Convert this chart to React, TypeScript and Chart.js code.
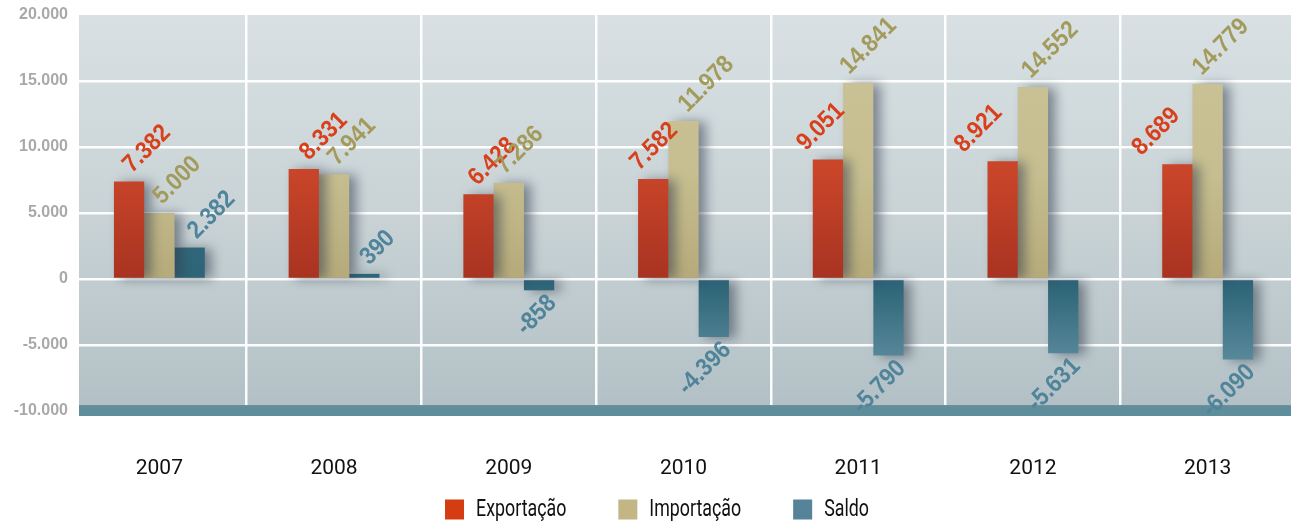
import React, { useEffect, useRef } from 'react';
import { Chart, registerables } from 'chart.js';

Chart.register(...registerables);

const years = ['2007', '2008', '2009', '2010', '2011', '2012', '2013'];
const exportacao = [7382, 8331, 6428, 7582, 9051, 8921, 8689];
const importacao = [5000, 7941, 7286, 11978, 14841, 14552, 14779];
const saldo = [2382, 390, -858, -4396, -5790, -5631, -6090];
const seriesNames = ['Exportação', 'Importação', 'Saldo'];
const yMin = -10000;
const yMax = 20000;
const yStep = 5000;

// label nudges (px) so value labels don't collide with the neighbouring bar
const labelNudge = [
  [0, 2, -4, -17, -25, -42, -39],
  [0, 0, -7, 1, -12, -5, -9],
  [4, 2, 0, 0, 0, 0, 0],
];

const legendColors = ['#d63c12', '#c4b684', '#558399'];
const labelColors = ['#d8401c', '#a39b5c', '#4f849a'];
const TEXT_FONT = 'Roboto, "Liberation Sans", sans-serif';

function fmt(v: number): string {
  const s = Math.abs(v).toString();
  const withDots = s.replace(/\B(?=(\d{3})+(?!\d))/g, '.');
  return (v < 0 ? '-' : '') + withDots;
}

function gradFor(chart: any, idx: number) {
  const area = chart.chartArea;
  if (!area) return legendColors[idx];
  const ctx = chart.ctx;
  const g = ctx.createLinearGradient(0, area.top, 0, area.bottom);
  if (idx === 0) {
    g.addColorStop(0, '#d2522f');
    g.addColorStop(0.4, '#c84529');
    g.addColorStop(0.66, '#a93321');
    g.addColorStop(1, '#a93321');
  } else if (idx === 1) {
    g.addColorStop(0, '#cbc499');
    g.addColorStop(0.4, '#c6be90');
    g.addColorStop(0.66, '#b6aa7a');
    g.addColorStop(1, '#b6aa7a');
  } else {
    g.addColorStop(0, '#4a7f92');
    g.addColorStop(0.6, '#2f6679');
    g.addColorStop(0.68, '#2d6477');
    g.addColorStop(0.9, '#5f8fa0');
    g.addColorStop(1, '#6a98a8');
  }
  return g;
}

const decorPlugin = {
  id: 'customDecor',
  beforeDraw(chart: any) {
    const { ctx, chartArea } = chart;
    if (!chartArea) return;
    ctx.save();
    const g = ctx.createLinearGradient(0, chartArea.top, 0, chartArea.bottom);
    g.addColorStop(0, '#d8e0e3');
    g.addColorStop(0.5, '#c9d3d6');
    g.addColorStop(1, '#b2c0c5');
    ctx.fillStyle = g;
    ctx.fillRect(79, chartArea.top, chartArea.right - 79, chartArea.bottom - chartArea.top);
    ctx.restore();
  },
  beforeDatasetsDraw(chart: any) {
    const { ctx, chartArea } = chart;
    ctx.save();
    const yScale = chart.scales.y;
    const bottom = yScale.getPixelForValue(yMin);
    ctx.fillStyle = '#5e8d9c';
    ctx.fillRect(79, bottom - 6, chartArea.right - 79, 11);
    ctx.fillStyle = '#6f8f98';
    ctx.fillRect(79, bottom - 6, chartArea.right - 79, 1.5);
    ctx.restore();
    ctx.save();
    ctx.shadowColor = 'rgba(50,60,75,0.55)';
    ctx.shadowBlur = 12;
    ctx.shadowOffsetX = 7;
    ctx.shadowOffsetY = 1;
  },
  afterDatasetsDraw(chart: any) {
    const { ctx } = chart;
    ctx.restore();
    ctx.save();
    ctx.font = 'bold 23px "Liberation Sans", Arial, sans-serif';
    ctx.textBaseline = 'alphabetic';
    chart.data.datasets.forEach((ds: any, di: number) => {
      const meta = chart.getDatasetMeta(di);
      meta.data.forEach((bar: any, i: number) => {
        const v = ds.data[i];
        const text = fmt(v);
        const nudge = labelNudge[di][i] || 0;
        ctx.save();
        ctx.fillStyle = labelColors[di];
        if (v >= 0) {
          ctx.translate(bar.x + 3 + nudge, bar.y - 8);
          ctx.textAlign = 'left';
        } else {
          ctx.translate(bar.x + bar.width / 2 + 3 + nudge, bar.y + 14);
          ctx.textAlign = 'right';
        }
        ctx.rotate(-Math.PI / 4);
        ctx.scale(0.97, 1.08);
        ctx.fillText(text, 0, 0);
        ctx.restore();
      });
    });
    ctx.restore();
  },
  afterDraw(chart: any) {
    const { ctx } = chart;
    ctx.save();
    ctx.font = '22px ' + TEXT_FONT;
    ctx.textBaseline = 'middle';
    ctx.textAlign = 'left';
    const box = 19;
    const gapText = 12;
    const gapItem = 52;
    const sx = 0.81;
    const widths = seriesNames.map((n) => ctx.measureText(n).width * sx);
    const total = widths.reduce((a, w) => a + box + gapText + w, 0) + gapItem * (seriesNames.length - 1);
    let x = 657 - total / 2;
    const cy = 509;
    seriesNames.forEach((n, i) => {
      ctx.fillStyle = legendColors[i];
      ctx.fillRect(x, cy - box / 2, box, box + 1);
      ctx.fillStyle = '#111';
      ctx.save();
      ctx.translate(x + box + gapText, cy + 1);
      ctx.scale(sx, 1.05);
      ctx.fillText(n, 0, 0);
      ctx.restore();
      x += box + gapText + widths[i] + gapItem;
    });
    ctx.restore();
  },
};

export default function App() {
  const ref = useRef<HTMLCanvasElement | null>(null);
  useEffect(() => {
    const canvas = ref.current;
    if (!canvas) return;
    const series = [exportacao, importacao, saldo];
    const chart = new Chart(canvas, {
      type: 'bar',
      data: {
        labels: years,
        datasets: series.map((data, idx) => ({
          label: seriesNames[idx],
          data,
          backgroundColor: (c: any) => gradFor(c.chart, idx),
          borderWidth: 0,
          categoryPercentage: 0.52,
          barPercentage: 1,
        })),
      },
      options: {
        responsive: false,
        animation: false,
        devicePixelRatio: 1,
        layout: { padding: { top: 15, left: 0, right: 0, bottom: 0 } },
        plugins: {
          tooltip: { enabled: false },
          legend: { display: false },
        },
        scales: {
          x: {
            grid: {
              offset: true,
              drawTicks: false,
              lineWidth: 2.5,
              color: (c: any) => (c.index === 0 || c.index === years.length ? 'rgba(0,0,0,0)' : 'rgba(255,255,255,0.95)'),
            },
            border: { display: false },
            ticks: {
              padding: 45,
              color: '#111',
              font: { family: TEXT_FONT, size: 21 },
            },
            afterFit: (s: any) => {
              s.height = 115;
            },
          },
          y: {
            min: yMin,
            max: yMax,
            grid: {
              drawTicks: false,
              lineWidth: 2.5,
              color: (c: any) => (c.tick && (c.tick.value === yMax || c.tick.value === yMin) ? 'rgba(0,0,0,0)' : 'rgba(255,255,255,0.95)'),
            },
            border: { display: false },
            ticks: {
              stepSize: yStep,
              padding: 4,
              color: '#a9a9a9',
              font: { family: '"Liberation Sans", Arial, sans-serif', size: 16, weight: 'bold' },
              callback: (v: any) => fmt(Number(v)),
            },
            afterFit: (s: any) => {
              s.width = 72;
            },
          },
        },
      },
      plugins: [decorPlugin],
    } as any);
    return () => chart.destroy();
  }, []);
  return (
    <div style={{ position: 'absolute', left: 0, top: 0, width: 1291, height: 526, overflow: 'hidden', background: '#fff' }}>
      <canvas ref={ref} width={1295} height={526} style={{ display: 'block', width: 1295, height: 526 }} />
    </div>
  );
}
